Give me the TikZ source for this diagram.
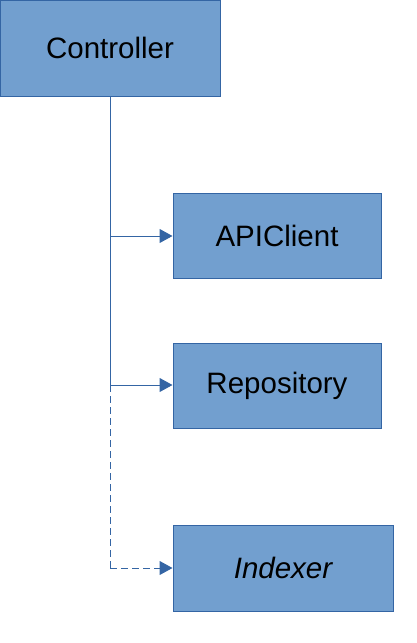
\documentclass[tikz,border=0pt]{standalone}
\usepackage{fontspec}
\setmainfont{Liberation Sans}
\usetikzlibrary{arrows.meta}
\definecolor{boxfill}{HTML}{729FCF}
\definecolor{boxline}{HTML}{3465A4}
\begin{document}
\begin{tikzpicture}[x=1pt,y=-1pt,
  cls/.style={draw=boxline,fill=boxfill,line width=1pt,inner sep=0pt,font=\fontsize{29.5}{34}\selectfont},
  conn/.style={draw=boxline,line width=1pt,-{Triangle[length=13pt,width=14pt]}}]
\useasboundingbox (0,0) rectangle (416,643);
\node[cls,minimum width=220pt,minimum height=96pt] (ctrl) at (110,48) {Controller};
\node[cls,minimum width=208pt,minimum height=85pt] (api) at (277,235.5) {APIClient};
\node[cls,minimum width=208pt,minimum height=85pt] (repo) at (277,385.5) {Repository};
\node[cls,minimum width=220pt,minimum height=86pt] (idx) at (283,568) {\itshape Indexer};
\coordinate (j1) at (110,236);
\coordinate (j2) at (110,385);
\coordinate (j3) at (110,568);
\draw[draw=boxline,line width=1pt] (ctrl.south) -- (j2);
\draw[conn] (j1) -- (api.west |- j1);
\draw[conn] (j2) -- (repo.west |- j2);
\draw[draw=boxline,line width=1pt,dashed,dash pattern=on 7pt off 4pt] (j2) -- (j3);
\draw[conn,dashed,dash pattern=on 7pt off 4pt] (j3) -- (idx.west);
\end{tikzpicture}
\end{document}
